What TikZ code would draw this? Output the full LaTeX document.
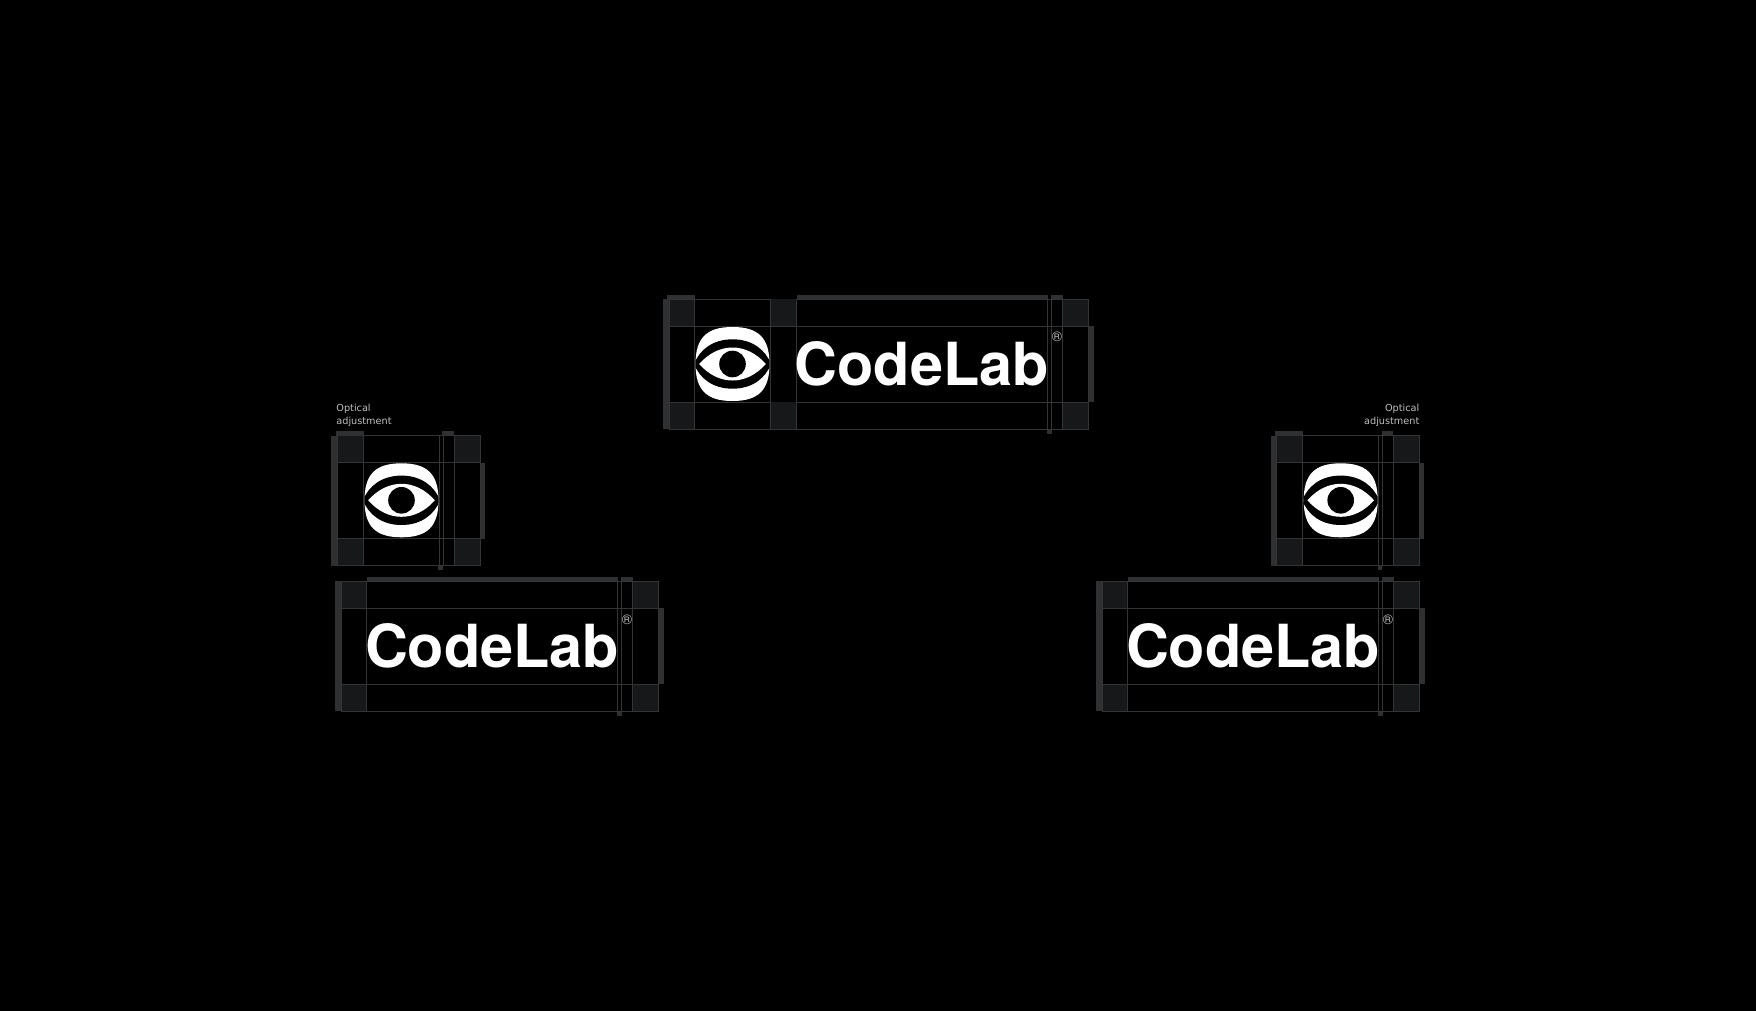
\documentclass[tikz,border=0pt]{standalone}
\usepackage{fontspec}
\setmainfont{TeX Gyre Heros}
\newfontfamily\notefont{DejaVu Sans}
\usepackage{tikz}
\definecolor{guide}{RGB}{50,52,54}
\definecolor{guidebar}{RGB}{46,48,50}
\definecolor{guidefill}{RGB}{22,24,26}
\definecolor{notegray}{RGB}{190,190,190}
\tikzset{
    guideline/.style={guide,line width=0.5pt},
    bar/.style={fill=guidebar,draw=none},
    corner/.style={fill=guidefill,draw=none},
    wordmark/.style={white,inner sep=0pt,anchor=base west,font=\fontsize{29.7}{30}\selectfont\bfseries},
    regmark/.style={notegray,inner sep=0pt,font=\fontsize{7}{7}\selectfont},
    note/.style={notegray,inner sep=0pt,font=\notefont\fontsize{4.85}{6.5}\selectfont}
}
% one construction grid: x, y of the top left corner, width of the content
\newcommand{\guideframe}[3]{
\begin{scope}[shift={(#1,#2)}]
\pgfmathsetmacro{\cr}{25.7+#3}
\foreach \sy in {0,103}{
    \fill[corner](0,\sy)rectangle(25.7,\sy+27);
    \fill[corner](\cr+15,\sy)rectangle(\cr+41.2,\sy+27);
}
\fill[bar](-6,0)rectangle(0,130);
\fill[bar](\cr+41.2,27)rectangle(\cr+45.8,103);
\fill[bar](\cr+3.4,-4.3)rectangle(\cr+15,0);
\fill[bar](\cr-0.7,130)rectangle(\cr+4,134.5);
\draw[guideline](0,0)rectangle(\cr+41.2,130);
\draw[guideline](0,27)--(\cr+41.2,27);
\draw[guideline](0,103)--(\cr+41.2,103);
\foreach \vx in {25.7,\cr,\cr+4,\cr+15}{
    \draw[guideline](\vx,0)--(\vx,130);
}
\end{scope}
}
% the eye, centred on x, y
\newcommand{\eyemark}[2]{
\begin{scope}[shift={(#1,#2)}]
\fill[white](0,-37)..controls(26,-37)and(37,-26)..(37,0)
    ..controls(37,26)and(26,37)..(0,37)
    ..controls(-26,37)and(-37,26)..(-37,0)
    ..controls(-37,-26)and(-26,-37)..(0,-37)--cycle;
\begin{scope}
\clip(0,-37)..controls(26,-37)and(37,-26)..(37,0)
    ..controls(37,26)and(26,37)..(0,37)
    ..controls(-26,37)and(-37,26)..(-37,0)
    ..controls(-37,-26)and(-26,-37)..(0,-37)--cycle;
\fill[black](-38.5,0)..controls(-33,-14)and(-20,-24.7)..(0,-24.7)
    ..controls(20,-24.7)and(33,-14)..(38.5,0)
    ..controls(33,14)and(20,24.7)..(0,24.7)
    ..controls(-20,24.7)and(-33,14)..(-38.5,0)--cycle;
\end{scope}
\fill[white](-33.3,0)..controls(-14,-22)and(14,-22)..(33.3,0)
    ..controls(14,22)and(-14,22)..(-33.3,0)--cycle;
\fill[black](0,0)circle(13.3);
\end{scope}
}
\begin{document}
\begin{tikzpicture}[x=0.5pt,y=-0.5pt]
\fill[black](0,0)rectangle(1756,1011);
\useasboundingbox(0,0)rectangle(1756,1011);
% logo with wordmark
\guideframe{669}{299.3}{353}
\fill[corner](770.3,299.3)rectangle(796.7,326.3);
\fill[corner](770.3,402.3)rectangle(796.7,429.3);
\fill[bar](667.3,295)rectangle(694.7,299.3);
\fill[bar](796.7,295)rectangle(1047.7,299.3);
\draw[guideline](770.3,299.3)--(770.3,429.3);
\draw[guideline](796.7,299.3)--(796.7,429.3);
\eyemark{732.5}{364}
\node[wordmark](wordmain)at(794.3,385){CodeLab};
\node[regmark](regmain)at(1057,337){®};
% left column
\guideframe{337.3}{435.5}{76}
\fill[bar](336,431.2)rectangle(363.7,435.5);
\eyemark{401.5}{500.3}
\node[note,anchor=base west,align=left](noteleft)at(336,424){Optical\\adjustment};
\guideframe{341}{581.3}{251}
\fill[bar](367,577)rectangle(617.7,581.3);
\node[wordmark](wordleft)at(364.6,667.6){CodeLab};
\node[regmark](regleft)at(627,619.7){®};
% right column
\guideframe{1276.7}{435.5}{76}
\fill[bar](1275.4,431.2)rectangle(1302.7,435.5);
\eyemark{1340.7}{500.3}
\node[note,anchor=base east,align=right](noteright)at(1419.7,424){Optical\\adjustment};
\guideframe{1102}{581.3}{251}
\fill[bar](1128,577)rectangle(1378.7,581.3);
\node[wordmark](wordright)at(1125.6,667.6){CodeLab};
\node[regmark](regright)at(1388,619.7){®};
\end{tikzpicture}
\end{document}
